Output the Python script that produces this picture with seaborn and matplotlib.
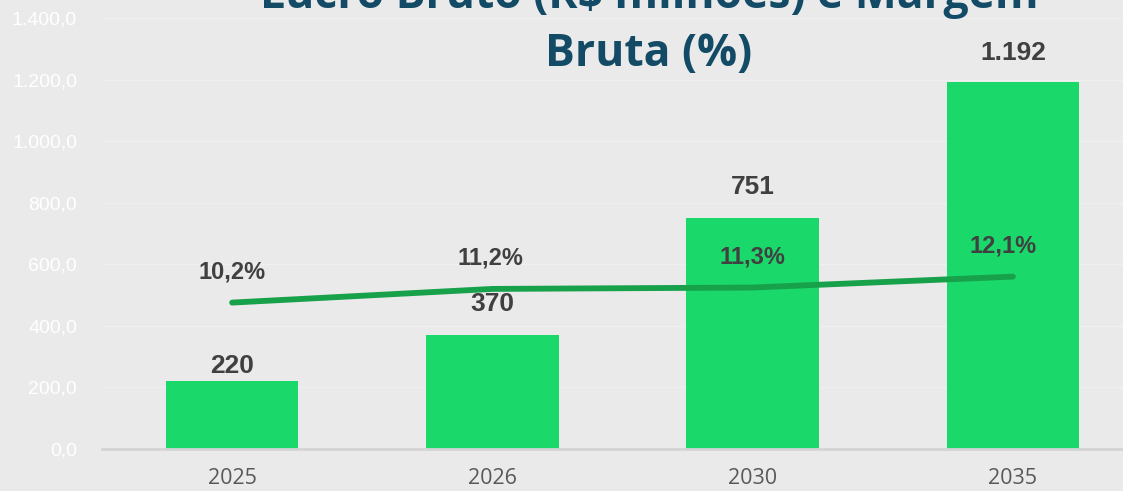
import matplotlib.pyplot as plt
import seaborn as sns
import numpy as np
import pandas as pd

# dados do grafico
anos = ['2025', '2026', '2030', '2035']
lucro_bruto = [220, 370, 751, 1192]
margem_bruta = [10.2, 11.2, 11.3, 12.1]
rotulos_lucro = ['220', '370', '751', '1.192']
rotulos_margem = ['10,2%', '11,2%', '11,3%', '12,1%']
yticks = [0, 200, 400, 600, 800, 1000, 1200, 1400]
ytick_labels = ['0,0', '200,0', '400,0', '600,0', '800,0', '1.000,0', '1.200,0', '1.400,0']

sns.set_theme(style='white')
plt.rcParams['font.family'] = ['Liberation Sans', 'DejaVu Sans']

fundo = '#eaeaea'
verde_barra = '#1bd86b'
verde_linha = '#17a14a'
cinza_txt = '#404040'

fig = plt.figure(figsize=(11.23, 4.91), dpi=100)
fig.patch.set_facecolor(fundo)
ax = fig.add_axes([102 / 1123, 42 / 491, 1041 / 1123, 431 / 491])
ax.set_facecolor('none')

df = pd.DataFrame({'ano': anos, 'lucro': lucro_bruto, 'margem': margem_bruta})

sns.barplot(data=df, x='ano', y='lucro', color=verde_barra, width=0.51,
            saturation=1, edgecolor='none', linewidth=0, ax=ax, zorder=2)
ax.set_ylim(0, 1400)
ax.set_xlim(-0.5, 3.5)
ax.set_yticks(yticks)
ax.set_yticklabels(ytick_labels, fontsize=14, color='white')
ax.tick_params(axis='y', length=0, pad=18)
ax.tick_params(axis='x', length=0, pad=14)
for t in ax.get_xticklabels():
    t.set_fontsize(15.5)
    t.set_color('#595959')
    t.set_family('Open Sans')
ax.set_xlabel('')
ax.set_ylabel('')
ax.grid(axis='y', color='white', alpha=0.25, lw=1, zorder=0)
for s in ['top', 'right', 'left']:
    ax.spines[s].set_visible(False)
ax.spines['bottom'].set_color('#d4d4d4')
ax.spines['bottom'].set_linewidth(2)

offs_barra = [3, 19, 19, 17]
for i, (v, txt) in enumerate(zip(lucro_bruto, rotulos_lucro)):
    ax.annotate(txt, (i, v), xytext=(0, offs_barra[i]), textcoords='offset pixels',
                ha='center', va='bottom', fontsize=19, fontweight='bold', color=cinza_txt)

# margem no eixo secundario
ax2 = ax.twinx()
ax2.set_ylim(-0.5, 31)
ax2.axis('off')
pos = np.arange(len(anos))
sns.lineplot(x=pos, y=margem_bruta, ax=ax2, color=verde_linha, lw=4.2,
             solid_capstyle='round', zorder=3)
offs_x = [0, -2, 0, -10]
for i, (v, txt) in enumerate(zip(margem_bruta, rotulos_margem)):
    ax2.annotate(txt, (i, v), xytext=(offs_x[i], 31), textcoords='offset pixels',
                 ha='center', va='center', fontsize=17, fontweight='bold', color=cinza_txt)

fig.text(649 / 1123, 1 - 8 / 491, 'Lucro Bruto (R$ milhões) e Margem', ha='center',
         va='baseline', fontsize=32, fontweight='bold', color='#134b66', family='Open Sans')
fig.text(649 / 1123, 1 - 66 / 491, 'Bruta (%)', ha='center',
         va='baseline', fontsize=32, fontweight='bold', color='#134b66', family='Open Sans')

fig.savefig('out.png', dpi=100, facecolor=fundo)
